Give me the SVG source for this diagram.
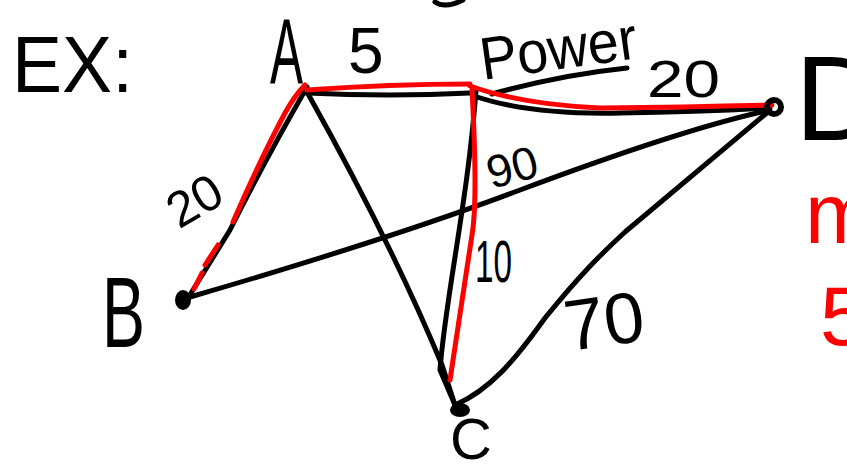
<svg xmlns="http://www.w3.org/2000/svg" width="847" height="472" viewBox="0 0 847 472">
  <style>
    .ink { fill: none; stroke: #000; stroke-width: 5; stroke-linecap: round; stroke-linejoin: round; }
    .hl { fill: none; stroke: #ff0000; stroke-width: 5; stroke-linecap: round; stroke-linejoin: round; }
    .t { font-family: "Liberation Sans", Arial, sans-serif; fill: #000; }
    .tr { font-family: "Liberation Sans", Arial, sans-serif; fill: #ff0000; }
  </style>
  <rect x="0" y="0" width="847" height="472" fill="#fff"/>

  <path class="ink" d="M435,2 Q445,9 463,0"/>
  <text class="t" x="12" y="92" font-size="80" textLength="121" lengthAdjust="spacingAndGlyphs">EX:</text>

  <g id="connectors">
    <path class="ink" d="M307,87 Q265,160 230,230 L188,298"/>
    <path class="ink" d="M307,93 Q390,97 470,93"/>
    <path class="ink" d="M474,96 Q530,115 620,113 Q700,112 770,108"/>
    <path class="ink" d="M307,92 Q390,240 442,365 L455,405"/>
    <path class="ink" d="M476,90 C468,200 445,300 440,370 L455,405"/>
    <path class="ink" d="M190,297 C300,265 420,228 520,190 C600,160 700,125 770,110"/>
    <path class="ink" d="M455,405 C490,390 515,360 545,318 C580,275 600,255 625,232 L768,112"/>
    <path class="ink" d="M492,94 Q560,75 627,68"/>

    <path class="hl" d="M233,222 Q260,160 285,113 Q295,95 305,85"/>
    <path class="hl" d="M218,245 L205,265 M202,273 L194,289"/>
    <path class="hl" d="M307,90 Q390,84 470,84"/>
    <path class="hl" d="M470,86 Q520,104 600,108 Q690,107 772,105"/>
    <path class="hl" d="M472,90 Q478,200 472,235 L450,380"/>

    <text class="t" x="348" y="73" font-size="64">5</text>
    <text class="t" x="483" y="80" font-size="60" textLength="158" lengthAdjust="spacingAndGlyphs" transform="rotate(-8 483 80)">Power</text>
    <text class="t" x="647" y="97" font-size="52" textLength="73" lengthAdjust="spacingAndGlyphs">20</text>
    <text class="t" x="194" y="218" font-size="50" text-anchor="middle" transform="rotate(-30 194 200)">20</text>
    <text class="t" x="512" y="183" font-size="46" text-anchor="middle" transform="rotate(-15 512 167)">90</text>
    <text class="t" x="475" y="282" font-size="60" textLength="37" lengthAdjust="spacingAndGlyphs">10</text>
    <text class="t" x="604" y="346" font-size="72" text-anchor="middle" transform="rotate(-8 604 320)">70</text>
  </g>

  <g id="node-A">
    <text class="t" x="270" y="84" font-size="92" textLength="33" lengthAdjust="spacingAndGlyphs">A</text>
  </g>
  <g id="node-B">
    <ellipse cx="183" cy="300" rx="8" ry="10" fill="#000"/>
    <text class="t" x="102" y="347" font-size="100" textLength="43" lengthAdjust="spacingAndGlyphs">B</text>
  </g>
  <g id="node-C">
    <ellipse cx="460" cy="410" rx="10" ry="7" fill="#000"/>
    <text class="t" x="450" y="459" font-size="58">C</text>
  </g>
  <g id="node-D">
    <circle cx="774" cy="107" r="7" fill="none" stroke="#000" stroke-width="6"/>
    <text class="t" x="795" y="140" font-size="120">D</text>
  </g>

  <text class="tr" x="805" y="243" font-size="85">m</text>
  <text class="tr" x="820" y="345" font-size="84">5</text>
</svg>
